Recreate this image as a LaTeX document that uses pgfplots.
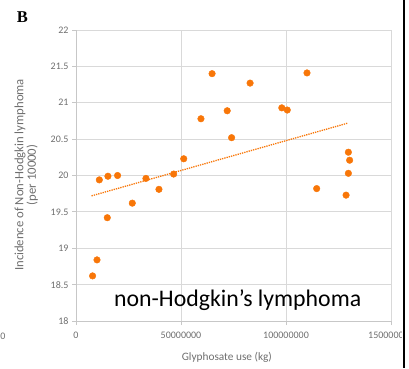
\documentclass[border=0pt]{standalone}
\usepackage{pgfplots}
\pgfplotsset{compat=1.18}
\usepackage{fontspec}
\setmainfont{Carlito}
\newfontfamily\serifb{Liberation Serif}
\definecolor{dotor}{RGB}{248,118,8}
\definecolor{gridg}{RGB}{217,217,217}
\definecolor{txtg}{RGB}{110,110,110}
\begin{document}
\begin{tikzpicture}
\useasboundingbox (0pt,0pt) rectangle (409pt,368pt);
\begin{axis}[
  at={(76pt,47pt)}, anchor=south west,
  scale only axis, width=315pt, height=291pt,
  xmin=0, xmax=150000000, ymin=18, ymax=22,
  xtick={0,50000000,100000000,150000000},
  xticklabels={0,50000000,100000000,150000000},
  ytick={18,18.5,19,19.5,20,20.5,21,21.5,22},
  yticklabels={18,18.5,19,19.5,20,20.5,21,21.5,22},
  scaled x ticks=false,
  grid=major, major grid style={gridg, line width=0.8pt},
  axis line style={gridg!80!gray, line width=0.8pt},
  axis x line*=bottom, axis y line*=left,
  tick style={gridg!80!gray, line width=0.8pt},
  tick align=outside, major tick length=4pt,
  ticklabel style={font=\fontsize{10}{12}\selectfont, text=txtg},
  xticklabel style={yshift=-3pt},
  xlabel={Glyphosate use (kg)},
  xlabel style={font=\fontsize{11.3}{13}\selectfont, text=txtg, at={(axis description cs:0.479,-0.124)}, anchor=center},
  ylabel style={font=\fontsize{12.7}{12.5}\selectfont, text=txtg, align=center, at={(axis description cs:-0.158,0.502)}, anchor=center, rotate=0},
  ylabel={Incidence of Non-Hodgkin lymphoma\\(per 10000)},
  clip=false,
]
\addplot[dotor, densely dotted, line width=1.3pt] coordinates {(7400000,19.72) (129400000,20.72)};
\addplot[only marks, mark=*, mark size=3.3pt, mark options={fill=dotor, draw=dotor}] coordinates {
(64800000,21.40) (82900000,21.27) (110000000,21.41) (72000000,20.89)
(98000000,20.93) (100600000,20.90) (59500000,20.78) (74100000,20.52)
(129700000,20.32) (130300000,20.21) (129700000,20.03) (114600000,19.82)
(128600000,19.73) (11100000,19.94) (15200000,19.99) (19800000,20.00)
(26800000,19.62) (14900000,19.42) (33300000,19.96) (39500000,19.81)
(46500000,20.02) (51300000,20.23) (10000000,18.84) (7900000,18.62)
};
\node[font=\fontsize{23.8}{26}\selectfont, anchor=base] at (axis cs:77000000,18.20) {non-Hodgkin’s lymphoma};
\end{axis}
\node[font=\serifb\bfseries\fontsize{16.5}{18}\selectfont] at (22.5pt,350.5pt) {B};
\node[font=\fontsize{10}{12}\selectfont, text=txtg] at (3pt,32pt) {0};
\fill[white] (402pt,0pt) rectangle (409pt,368pt);
\fill[black] (402.7pt,0pt) rectangle (405.3pt,368pt);
\end{tikzpicture}
\end{document}
